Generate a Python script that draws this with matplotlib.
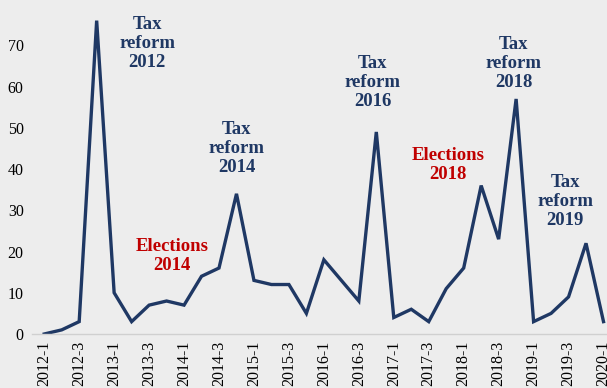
import matplotlib.pyplot as plt
import numpy as np

BG = "#EDEDED"
NAVY = "#1F3864"
RED = "#C00000"

quarters = [f"{y}-{q}" for y in range(2012, 2021) for q in range(1, 5)][:33]
values = [0, 1, 3, 76, 10, 3, 7, 8, 7, 14, 16, 34, 13, 12, 12, 5,
          18, 13, 8, 49, 4, 6, 3, 11, 16, 36, 23, 57, 3, 5, 9, 22, 3]

notes = [
    ("Tax\nreform\n2012", 5.9, 70.5, NAVY),
    ("Tax\nreform\n2014", 11.0, 45.0, NAVY),
    ("Elections\n2014", 7.3, 18.9, RED),
    ("Tax\nreform\n2016", 18.8, 61.0, NAVY),
    ("Elections\n2018", 23.1, 40.9, RED),
    ("Tax\nreform\n2018", 26.85, 65.6, NAVY),
    ("Tax\nreform\n2019", 29.8, 32.2, NAVY),
]

plt.rcParams["font.family"] = ["Liberation Serif", "DejaVu Serif"]

fig = plt.figure(figsize=(6.07, 3.88), dpi=100, facecolor=BG)
ax = fig.add_axes([32 / 607, 54 / 388, 575 / 607, 334 / 388], facecolor=BG)

x = np.arange(len(values))
ax.plot(x, values, color=NAVY, lw=2.4, solid_joinstyle="miter")

for text, tx, ty, col in notes:
    ax.text(tx, ty, text, ha="center", va="center", color=col,
            fontsize=13.5, fontweight="bold", linespacing=1.15)

ax.set_xlim(-0.7, 32.2)
ax.set_ylim(0, 81)
ax.set_yticks(range(0, 80, 10))
ax.set_xticks(x[::2])
ax.set_xticklabels(quarters[::2], rotation=90, fontsize=11.5)
ax.tick_params(axis="y", labelsize=11.5, length=0, pad=6)
ax.tick_params(axis="x", length=0, pad=5)

for side in ["top", "right", "left"]:
    ax.spines[side].set_visible(False)
ax.spines["bottom"].set_color("#D0D0D0")
ax.spines["bottom"].set_linewidth(1)

fig.savefig("out.png", dpi=100, facecolor=BG)
